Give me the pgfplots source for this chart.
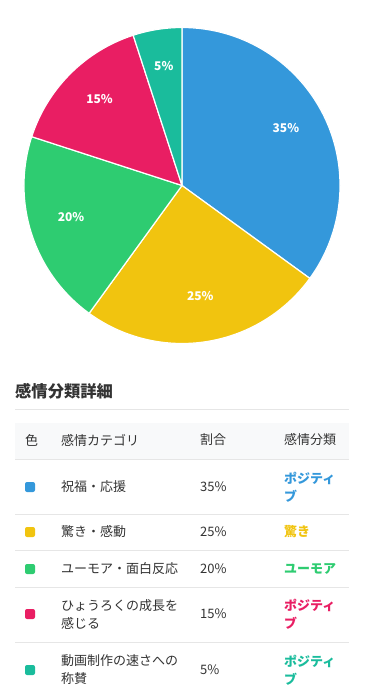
\documentclass[border=0pt]{standalone}
\usepackage{pgfplots}
\usepackage{pgfplotstable}
\pgfplotsset{compat=1.18}
\usepackage{fontspec}
\setmainfont{Noto Sans CJK JP}
\definecolor{cBlue}{HTML}{3498DB}
\definecolor{cYellow}{HTML}{F1C40F}
\definecolor{cGreen}{HTML}{2ECC71}
\definecolor{cRed}{HTML}{E91E63}
\definecolor{cTeal}{HTML}{1ABC9C}
\definecolor{txt}{HTML}{333333}
\definecolor{hdrbg}{HTML}{F8F9FA}
\definecolor{rule}{HTML}{E6E6E6}
\pgfplotstableread[col sep=comma]{
value,color
35,cBlue
25,cYellow
20,cGreen
15,cRed
5,cTeal
}\piedata
\newcommand\pielabelfont{\bfseries\fontsize{12}{14}\selectfont}
\newcommand\tfont{\fontsize{13}{18}\selectfont}
\begin{document}
\begin{tikzpicture}[x=1pt,y=1pt]
\fill[white] (0,0) rectangle (371,-691);
\begin{axis}[at={(182pt,-185.5pt)}, anchor=center, scale only axis,
  width=316pt, height=316pt, xmin=-1, xmax=1, ymin=-1, ymax=1,
  hide axis, clip=false]
\def\startang{90}
\pgfplotsforeachungrouped \i in {0,...,4}{
  \pgfplotstablegetelem{\i}{value}\of\piedata \let\val\pgfplotsretval
  \pgfplotstablegetelem{\i}{color}\of\piedata \let\col\pgfplotsretval
  \pgfmathsetmacro\endang{\startang-3.6*\val}
  \pgfmathsetmacro\midang{(\startang+\endang)/2}
  \edef\temp{\noexpand\fill[\col, draw=white, line width=1.2pt, line join=round]
    (axis cs:0,0) -- (axis cs:{cos(\startang)},{sin(\startang)})
    arc[start angle=\startang, end angle=\endang, radius=158pt] -- cycle;
    \noexpand\node[text=white, font=\noexpand\pielabelfont, yshift=4.5pt]
    at (axis cs:{0.738*cos(\midang)},{0.738*sin(\midang)}) {\val\noexpand\%};}
  \temp
  \global\let\startang\endang
}
\end{axis}
% table
\node[anchor=west, inner sep=0, text=txt, font=\bfseries\fontsize{16.3}{20}\selectfont] at (15,-391) {感情分類詳細};
\draw[rule, line width=0.8pt] (15,-409) -- (349,-409);
\fill[hdrbg] (15,-423) rectangle (349,-459);
\draw[rule, line width=0.8pt] (15,-459) -- (349,-459);
\foreach \yy in {514,550,587,642} {\draw[rule, line width=0.8pt] (15,-\yy) -- (349,-\yy);}
\begin{scope}[every node/.style={anchor=west, inner sep=0, text=txt, font=\tfont, align=left}]
\node at (25,-440) {色};
\node at (61,-440) {感情カテゴリ};
\node at (200,-440) {割合};
\node at (284,-440) {感情分類};
% rows
\node at (61,-487) {祝福・応援};
\node at (200,-487) {35\%};
\node[text=cBlue, font=\bfseries\tfont] at (284,-487) {ポジティ\\ブ};
\node at (61,-532) {驚き・感動};
\node at (200,-532) {25\%};
\node[text=cYellow, font=\bfseries\tfont] at (284,-532) {驚き};
\node at (61,-569) {ユーモア・面白反応};
\node at (200,-569) {20\%};
\node[text=cGreen, font=\bfseries\tfont] at (284,-569) {ユーモア};
\node at (61,-614) {ひょうろくの成長を\\感じる};
\node at (200,-614) {15\%};
\node[text=cRed, font=\bfseries\tfont] at (284,-614) {ポジティ\\ブ};
\node at (61,-670) {動画制作の速さへの\\称賛};
\node at (200,-670) {5\%};
\node[text=cTeal, font=\bfseries\tfont] at (284,-670) {ポジティ\\ブ};
\end{scope}
\foreach \yy/\cc in {487/cBlue,532/cYellow,569/cGreen,614/cRed,670/cTeal}
  {\fill[\cc, rounded corners=2pt] (25,-\yy+5) rectangle (35,-\yy-5);}
\end{tikzpicture}
\end{document}
